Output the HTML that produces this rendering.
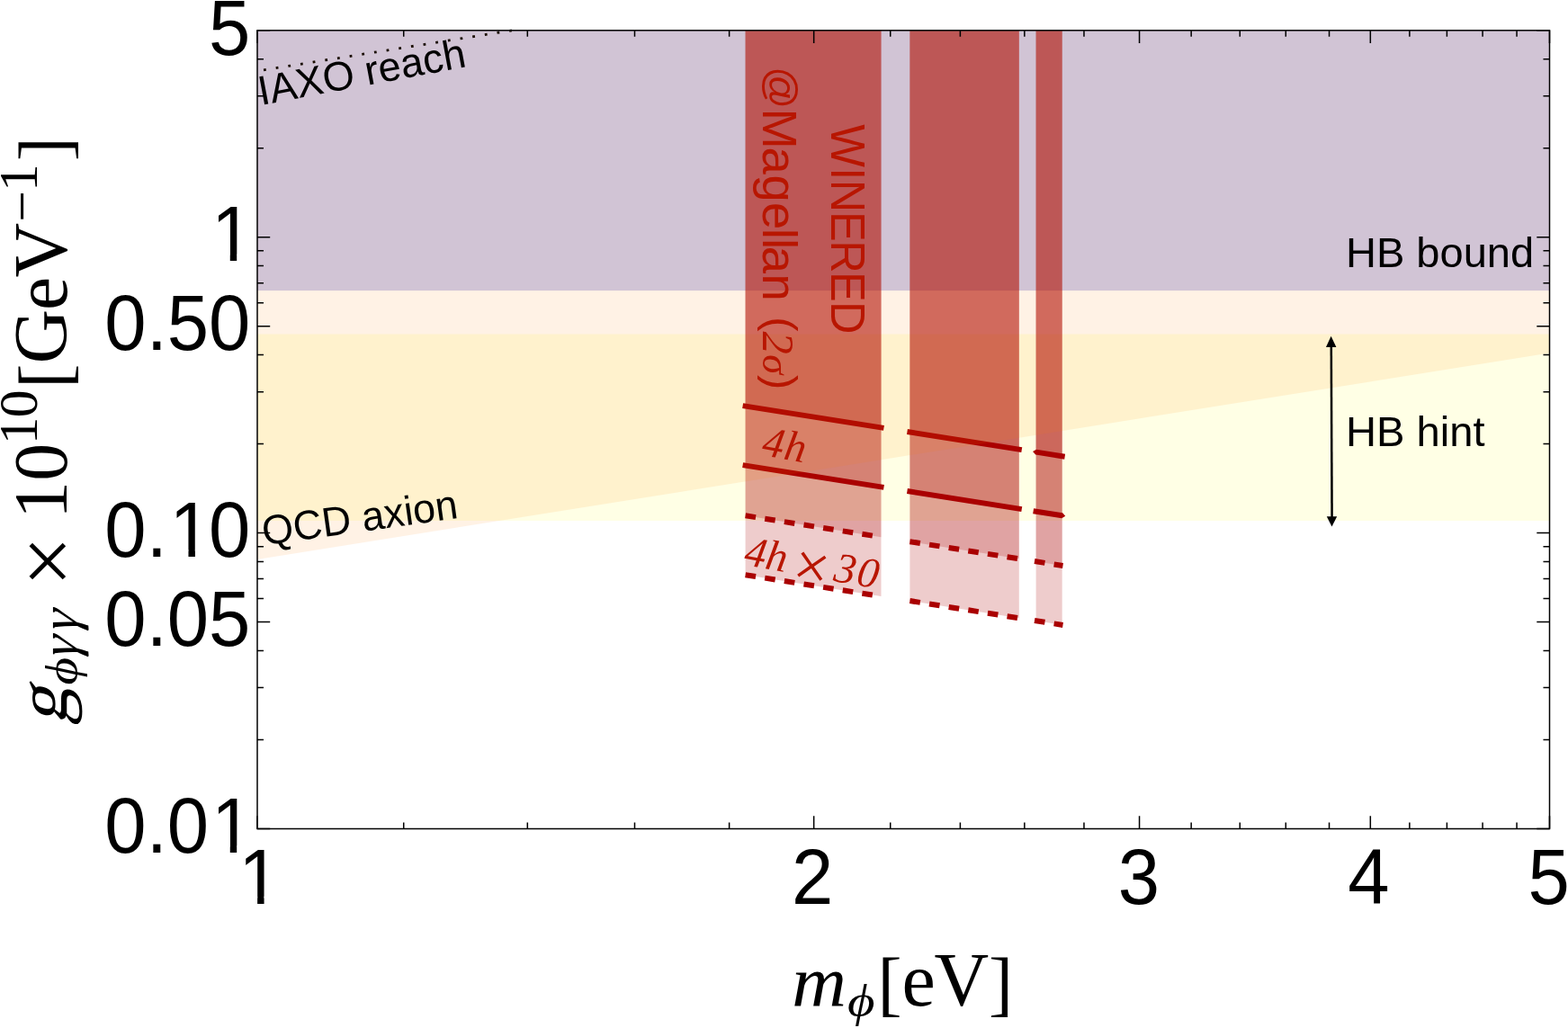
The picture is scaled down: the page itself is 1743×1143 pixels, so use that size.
<!DOCTYPE html>
<html lang="en"><head><meta charset="utf-8"><title>WINERED axion bound plot</title>
<style>
html,body{margin:0;padding:0;background:#fff;}
body{width:1743px;height:1143px;overflow:hidden;}
svg{display:block;}
.sans{font-family:"Liberation Sans",sans-serif;}
.serif{font-family:"Liberation Serif",serif;}
.it{font-style:italic;}
.up{font-style:normal;}
</style></head><body>
<svg width="1743" height="1143" viewBox="0 0 1743 1143">
<rect x="0" y="0" width="1743" height="1143" fill="#fff"/>
<g id="regions">
<rect x="286" y="371.5" width="1436.5" height="207.5" fill="#ffff00" fill-opacity="0.1"/>
<rect x="286" y="33.8" width="1436.5" height="289.3" fill="#0000aa" fill-opacity="0.2"/>
</g>
<g id="bands" fill="#aa0000" fill-opacity="0.2">
<polygon points="828.6,33.8 979.5,33.8 979.5,663.04 828.6,639.2"/>
<polygon points="828.6,33.8 979.5,33.8 979.5,597.14 828.6,573.3"/>
<polygon points="828.6,33.8 979.5,33.8 979.5,541.44 828.6,517.6"/>
<polygon points="828.6,33.8 979.5,33.8 979.5,475.44 828.6,451.6"/>
<polygon points="1011.4,33.8 1132.8,33.8 1132.8,687.26 1011.4,668.08"/>
<polygon points="1011.4,33.8 1132.8,33.8 1132.8,621.36 1011.4,602.18"/>
<polygon points="1011.4,33.8 1132.8,33.8 1132.8,565.66 1011.4,546.48"/>
<polygon points="1011.4,33.8 1132.8,33.8 1132.8,499.66 1011.4,480.48"/>
<polygon points="1151.6,33.8 1180.7,33.8 1180.7,694.83 1151.6,690.23"/>
<polygon points="1151.6,33.8 1180.7,33.8 1180.7,628.93 1151.6,624.33"/>
<polygon points="1151.6,33.8 1180.7,33.8 1180.7,573.23 1151.6,568.63"/>
<polygon points="1151.6,33.8 1180.7,33.8 1180.7,507.23 1151.6,502.63"/>
</g>
<g id="lines" fill="none" stroke="#aa0000" stroke-width="6">
<line x1="825.64" y1="451.13" x2="982.46" y2="475.91"/>
<line x1="825.64" y1="517.13" x2="982.46" y2="541.91"/>
<line x1="828.6" y1="573.3" x2="979.5" y2="597.14" stroke-dasharray="11.6 10.3"/>
<line x1="828.6" y1="639.2" x2="979.5" y2="663.04" stroke-dasharray="11.6 10.3"/>
<line x1="1008.44" y1="480.01" x2="1135.76" y2="500.13"/>
<line x1="1008.44" y1="546.01" x2="1135.76" y2="566.13"/>
<line x1="1011.4" y1="602.18" x2="1132.8" y2="621.36" stroke-dasharray="11.6 10.3"/>
<line x1="1011.4" y1="668.08" x2="1132.8" y2="687.26" stroke-dasharray="11.6 10.3"/>
<polygon stroke="none" fill="#aa0000" points="1151.13,505.6 1148.04,502.07 1152.07,499.67 1184.13,504.74 1183.2,510.66"/>
<polygon stroke="none" fill="#aa0000" points="1148.17,571.13 1149.1,565.2 1181.17,570.27 1184.26,573.79 1180.23,576.2"/>
<line x1="1150" y1="624.08" x2="1181.5" y2="629.06" stroke-dasharray="11.6 10.3"/>
<line x1="1150" y1="689.98" x2="1181.5" y2="694.96" stroke-dasharray="11.6 10.3"/>
</g>
<line x1="286" y1="78.95" x2="569.07" y2="33.8" stroke="#000" stroke-width="2.8" stroke-dasharray="2.8 11.03" stroke-dashoffset="-7.1"/>
<polygon id="qcd" points="286,33.8 1722.5,33.8 1722.5,392.6 286,622" fill="#ff8000" fill-opacity="0.1"/>
<g id="arrow" fill="#000" stroke="none">
<line x1="1479.8" y1="384" x2="1480.6" y2="576" stroke="#000" stroke-width="2.5"/>
<polygon points="1479.6,373.8 1485.4,386 1474,386"/>
<polygon points="1480.5,585.6 1474.8,574.2 1486.2,574.2"/>
</g>
<g fill="#000">
<text class="sans" font-size="46" transform="translate(1495.94,296.9) rotate(0) scale(1.0230,1)">HB bound</text>
<text class="sans" font-size="46" transform="translate(1495.93,496.1) rotate(0) scale(1.0256,1)">HB hint</text>
<text class="sans" font-size="45.8" transform="translate(290.1,116.97) rotate(-10.65) scale(0.9868,1)">IAXO reach</text>
<text class="sans" font-size="45.8" transform="translate(293.5,606.3) rotate(-8) scale(0.9779,1)">QCD axion</text>
</g>
<g fill="#b81600">
<text class="sans" transform="translate(923.9,138.2) rotate(90) scale(0.9300,1)" font-size="54.3" x="0.05 51.65 66.19 104.06 138.78 176.26 211.72" y="0">WINERED</text>
<text class="sans" transform="translate(848.4,77.7) rotate(90)" font-size="54.3" x="-3.67 42.93 85.85 116.91 147.2 175.95 187.4 196.15 226.91 257.11 274.57 290.77 316.51 339.37" y="-5 0 0 0 0 0 0 0 0 0 -3.2 0 0 -3.2"><tspan font-size="46.5">@</tspan>Magellan <tspan font-size="49">(</tspan><tspan class="serif it" font-size="50.5">2</tspan><tspan class="serif it" font-size="44.5">σ</tspan><tspan font-size="49">)</tspan></text>
<text class="serif it" transform="translate(845.5,505.8) rotate(10.2)" font-size="47.5" x="0.29 24.88" y="0">4h</text>
<text class="serif it" transform="translate(826.2,627.9) rotate(10.2)" font-size="47.5" x="-0.17 23.51 47.26 55.52 94.99 100.95 126.56" y="0 0 0 11.4 0 0 0">4h <tspan class="serif up" font-size="70">×</tspan> 30</text>
</g>
<g id="ticks" stroke="#000" stroke-width="1.5" fill="none">
<path d="M286,921.5v-14.2 M286,33.8v14.2"/>
<path d="M904.67,921.5v-14.2 M904.67,33.8v14.2"/>
<path d="M1266.56,921.5v-14.2 M1266.56,33.8v14.2"/>
<path d="M1523.33,921.5v-14.2 M1523.33,33.8v14.2"/>
<path d="M1722.5,921.5v-14.2 M1722.5,33.8v14.2"/>
<path d="M448.73,921.5v-7 M448.73,33.8v7"/>
<path d="M586.32,921.5v-7 M586.32,33.8v7"/>
<path d="M705.5,921.5v-7 M705.5,33.8v7"/>
<path d="M810.63,921.5v-7 M810.63,33.8v7"/>
<path d="M989.74,921.5v-7 M989.74,33.8v7"/>
<path d="M1067.4,921.5v-7 M1067.4,33.8v7"/>
<path d="M1138.84,921.5v-7 M1138.84,33.8v7"/>
<path d="M1204.98,921.5v-7 M1204.98,33.8v7"/>
<path d="M1324.17,921.5v-7 M1324.17,33.8v7"/>
<path d="M1378.28,921.5v-7 M1378.28,33.8v7"/>
<path d="M1429.29,921.5v-7 M1429.29,33.8v7"/>
<path d="M1477.55,921.5v-7 M1477.55,33.8v7"/>
<path d="M1566.88,921.5v-7 M1566.88,33.8v7"/>
<path d="M1608.4,921.5v-7 M1608.4,33.8v7"/>
<path d="M1648.08,921.5v-7 M1648.08,33.8v7"/>
<path d="M1686.06,921.5v-7 M1686.06,33.8v7"/>
<path d="M286,921.5h14.2 M1722.5,921.5h-14.2"/>
<path d="M286,691.61h14.2 M1722.5,691.61h-14.2"/>
<path d="M286,592.6h14.2 M1722.5,592.6h-14.2"/>
<path d="M286,362.7h14.2 M1722.5,362.7h-14.2"/>
<path d="M286,263.69h14.2 M1722.5,263.69h-14.2"/>
<path d="M286,33.8h14.2 M1722.5,33.8h-14.2"/>
<path d="M286,822.49h7 M1722.5,822.49h-7"/>
<path d="M286,764.57h7 M1722.5,764.57h-7"/>
<path d="M286,723.48h7 M1722.5,723.48h-7"/>
<path d="M286,665.56h7 M1722.5,665.56h-7"/>
<path d="M286,643.54h7 M1722.5,643.54h-7"/>
<path d="M286,624.47h7 M1722.5,624.47h-7"/>
<path d="M286,607.65h7 M1722.5,607.65h-7"/>
<path d="M286,493.59h7 M1722.5,493.59h-7"/>
<path d="M286,435.67h7 M1722.5,435.67h-7"/>
<path d="M286,394.58h7 M1722.5,394.58h-7"/>
<path d="M286,336.66h7 M1722.5,336.66h-7"/>
<path d="M286,314.64h7 M1722.5,314.64h-7"/>
<path d="M286,295.57h7 M1722.5,295.57h-7"/>
<path d="M286,278.74h7 M1722.5,278.74h-7"/>
<path d="M286,164.68h7 M1722.5,164.68h-7"/>
<path d="M286,106.77h7 M1722.5,106.77h-7"/>
<path d="M286,65.67h7 M1722.5,65.67h-7"/>
</g>
<rect x="286" y="33.8" width="1436.5" height="887.7" fill="none" stroke="#000" stroke-width="1.5"/>
<defs><clipPath id="nf0"><path clip-rule="evenodd" d="M-400,-200H800V200H-400ZM7.21,-7.76H24.53V2.59H7.21ZM32.21,-7.76H48.58V2.59H32.21Z"/></clipPath><clipPath id="nf1"><path clip-rule="evenodd" d="M-400,-200H800V200H-400ZM79.1,-7.76H96.42V2.59H79.1ZM104.1,-7.76H120.47V2.59H104.1Z"/></clipPath><clipPath id="nf2"><path clip-rule="evenodd" d="M-400,-200H800V200H-400ZM127.04,-7.76H144.36V2.59H127.04ZM152.04,-7.76H168.41V2.59H152.04Z"/></clipPath><clipPath id="nf3"><path clip-rule="evenodd" d="M-400,-200H800V200H-400ZM7.21,-7.76H24.53V2.59H7.21ZM32.21,-7.76H48.58V2.59H32.21Z"/></clipPath></defs>
<g class="sans" font-size="86.2" fill="#000">
<text transform="translate(232.09,60.5) scale(0.966,1)" x="0">5</text>
<text transform="translate(232.09,290.39) scale(0.966,1)" x="2.9" clip-path="url(#nf0)">1</text>
<text transform="translate(116.33,389.4) scale(0.966,1)" x="0 47.94 71.89 119.83">0.50</text>
<text transform="translate(116.33,619.3) scale(0.966,1)" x="0 47.94 74.79 119.83" clip-path="url(#nf1)">0.10</text>
<text transform="translate(116.33,718.31) scale(0.966,1)" x="0 47.94 71.89 119.83">0.05</text>
<text transform="translate(116.33,948.2) scale(0.966,1)" x="0 47.94 71.89 122.73" clip-path="url(#nf2)">0.01</text>
<text transform="translate(262.44,1004.5) scale(0.966,1)" x="2.9" clip-path="url(#nf3)">1</text>
<text transform="translate(880.11,1004.5) scale(0.966,1)" x="0">2</text>
<text transform="translate(1242.81,1004.5) scale(0.966,1)" x="0">3</text>
<text transform="translate(1498.18,1004.5) scale(0.966,1)" x="0">4</text>
<text transform="translate(1698.54,1004.5) scale(0.966,1)" x="0">5</text>
</g>
<g id="xlabel" fill="#000" transform="translate(0,1118)">
<text class="serif it" font-size="84" transform="translate(880.37,0) scale(1.0000,0.9450)">m</text>
<text class="serif it" font-size="59" transform="translate(941.9,12.2) scale(1.0000,0.8760)">ϕ</text>
<text class="serif" transform="translate(0,0) rotate(0)" font-size="84" x="975.42 1002.62 1038.57 1099.01" y="1.5 0 0 1.5"><tspan font-size="81.3">[</tspan>eV<tspan font-size="81.3">]</tspan></text>
</g>
<g id="ylabel" fill="#000" transform="translate(74,1000) rotate(-90)">
<text class="serif" font-size="84" transform="translate(193.73,0) scale(1.0000,0.9600) skewX(-14)">g</text>
<text class="serif it" font-size="59" transform="translate(238.5,12) scale(1.0000,0.8760)">ϕ</text>
<text class="serif it" font-size="59" transform="translate(267.79,12) skewX(-8)">γ</text>
<text class="serif it" font-size="59" transform="translate(296.64,12) skewX(-8)">γ</text>
<text class="serif" transform="translate(0,0) rotate(0)" font-size="84" x="347.7 404.1 423.08 465.35 505.67 535.88 568.32 595.51 655.07 691.47 753.18 787.07 820.71" y="12.2 0 0 0 -33.5 -33.5 1.5 0 0 0 -29.5 -33.5 1.5"><tspan font-size="100">×</tspan> 10<tspan font-size="61.5">10</tspan><tspan font-size="81.3">[</tspan>GeV<tspan font-size="61.5">−1</tspan><tspan font-size="81.3">]</tspan></text>
</g>
</svg></body></html>
